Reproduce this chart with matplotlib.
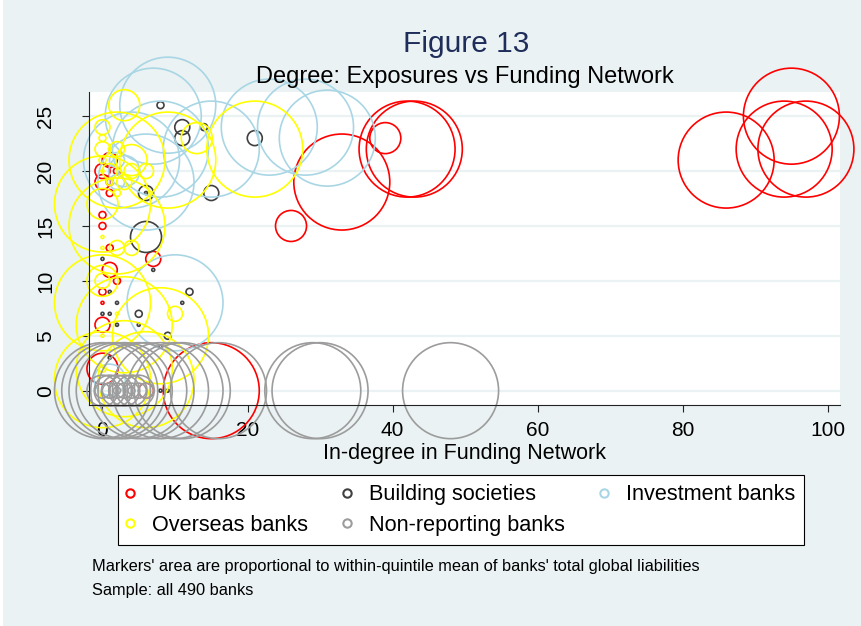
import matplotlib
matplotlib.use("Agg")
import matplotlib.pyplot as plt
from matplotlib.lines import Line2D
from matplotlib.patches import Rectangle

plt.rcParams['font.family'] = ['Liberation Sans', 'DejaVu Sans']

# x = in-degree in funding network, y = degree in exposures network,
# q = liabilities quintile of the bank (1 = smallest)
uk_x = [86, 95, 94, 97, 33, 42, 43, 15, 26, 39, 0, 7, 1, 0, 0, 0, 1, 6, 1, 0, 0, 1, 2, 0, 2, 1, 0]
uk_y = [21, 25, 22, 22, 19, 22, 22, 0, 15, 23, 2, 12, 11, 6, 20, 19, 21, 0, 18, 16, 15, 13, 10, 9, 20, 19, 8]
uk_q = [5, 5, 5, 5, 5, 5, 5, 5, 4, 4, 4, 3, 3, 3, 3, 3, 3, 3, 2, 2, 2, 2, 2, 2, 2, 2, 1]

bs_x = [6, 21, 15, 11, 11, 6, 8, 14, 12, 5, 9, 11, 5, 7, 8, 9, 1, 0, 0, 1, 2, 1, 8, 2, 6]
bs_y = [14, 23, 18, 24, 23, 18, 26, 24, 9, 7, 5, 8, 6, 11, 0, 0, 9, 12, 7, 7, 8, 3, 4, 6, 18]
bs_q = [4, 3, 3, 3, 3, 3, 2, 2, 2, 2, 2, 1, 1, 1, 1, 1, 1, 1, 1, 1, 1, 1, 1, 1, 1]

ib_x = [9, 7, 8, 15, 23, 28, 31, 6, 10, 4, 3, 1, 2, 1, 2]
ib_y = [26, 25, 22, 22, 24, 24, 23, 19, 8, 21, 20, 1, 21, 0, 19]
ib_q = [5, 5, 5, 5, 5, 5, 5, 5, 5, 5, 4, 4, 3, 3, 3]

os_x = [21, 9, 2, 0, 2, 0, 3, 8, 0, 3, 6,
        3, 13, 0, 4, 0,
        0, 6, 2, 4, 10, 0, 1, 3, 0, 2, 4,
        0, 0, 1, 0, 2,
        0, 0, 0, 2, 0, 1]
os_y = [22, 21, 21, 17, 15, 8, 6, 5, 1, 2, 1,
        26, 23, 10, 21, 17,
        24, 20, 13, 13, 7, 22, 20, 19, 10, 22, 20,
        23, 21, 19, 2, 18,
        14, 13, 5, 7, 20, 22]
os_q = [5, 5, 5, 5, 5, 5, 5, 5, 5, 5, 5,
        4, 4, 4, 4, 4,
        3, 3, 3, 3, 3, 3, 3, 3, 3, 3, 3,
        2, 2, 2, 2, 2,
        1, 1, 1, 1, 1, 1]

nr_x = [0, 1, 2, 3, 5, 6, 8, 10, 11, 16, 29, 30, 48,
        0, 1, 2, 3, 4, 5,
        0, 1, 2, 3, 4, 5, 6,
        2, 4]
nr_y = [0] * len(nr_x)
nr_q = [5] * 13 + [4] * 6 + [3] * 7 + [2] * 2

# within-quintile mean of total global liabilities (relative units)
quintile_mean = [1, 5.4, 25, 107, 1024]

groups = [
    ("UK banks", uk_x, uk_y, uk_q, "#ff0000"),
    ("Building societies", bs_x, bs_y, bs_q, "#404040"),
    ("Investment banks", ib_x, ib_y, ib_q, "#a9d6e5"),
    ("Overseas banks", os_x, os_y, os_q, "#ffff00"),
    ("Non-reporting banks", nr_x, nr_y, nr_q, "#9c9c9c"),
]

BG = "#eaf2f3"
W, H = 861, 626
fig = plt.figure(figsize=(W / 100, H / 100), dpi=100, facecolor=BG)
fig.patches.append(Rectangle((0, 0), 3 / W, 1, transform=fig.transFigure,
                             facecolor="white", edgecolor="none"))

ax = fig.add_axes([89 / W, 1 - 404.5 / H, (840 - 89) / W, (404.5 - 92) / H])
ax.set_facecolor("white")
ax.set_xlim(-1.86, 101.7)
ax.set_ylim(-1.26, 27.2)

scale = 4.665  # points^2 per unit of liabilities
for label, xs, ys, qs, col in groups:
    sizes = [quintile_mean[q - 1] * scale for q in qs]
    ax.scatter(xs, ys, s=sizes, facecolors="none", edgecolors=col,
               linewidths=1.2, clip_on=False, zorder=1)

ax.set_xticks([0, 20, 40, 60, 80, 100])
ax.set_yticks([0, 5, 10, 15, 20, 25])
ax.tick_params(axis="both", direction="out", length=5, width=0.8,
               color="#222222", labelsize=15)
ax.tick_params(axis="x", pad=7)
ax.tick_params(axis="y", pad=26)
for t in ax.get_yticklabels():
    t.set_rotation(90)
    t.set_va("center")
    t.set_ha("center")
ax.yaxis.grid(True, color=BG, linewidth=1.6)
ax.set_axisbelow(True)
for side in ("top", "right"):
    ax.spines[side].set_visible(False)
for side in ("left", "bottom"):
    ax.spines[side].set_color("#222222")
    ax.spines[side].set_linewidth(0.8)
ax.set_xlabel("In-degree in Funding Network", fontsize=15.5, labelpad=2)

fig.text(466 / W, 1 - 51.5 / H, "Figure 13", ha="center", va="baseline",
         fontsize=21.5, color="#1f2d5a", zorder=5)
fig.text(464.5 / W, 1 - 83 / H, "Degree: Exposures vs Funding Network",
         ha="center", va="baseline", fontsize=17, color="black", zorder=5)

# matplotlib fills legend columns first; reorder so rows read like the original
order = [0, 3, 1, 4, 2]
handles = [Line2D([], [], marker="o", ls="none", mfc="none", mec=groups[i][4],
                  ms=6, mew=1.5) for i in order]
labels = [groups[i][0] for i in order]
leg = fig.legend(handles, labels, ncol=3, loc="upper left",
                 bbox_to_anchor=(118 / W, 1 - 475 / H), fontsize=15.6,
                 frameon=True, fancybox=False, edgecolor="black",
                 framealpha=1, borderpad=0.42, handlelength=0.3,
                 handletextpad=0.85, columnspacing=1.66, labelspacing=0.45,
                 borderaxespad=0)
leg.get_frame().set_linewidth(0.8)

fig.text(92 / W, 1 - 571.5 / H,
         "Markers' area are proportional to within-quintile mean of banks' total global liabilities",
         ha="left", va="baseline", fontsize=11.8)
fig.text(92 / W, 1 - 595 / H, "Sample: all 490 banks",
         ha="left", va="baseline", fontsize=11.8)

fig.savefig("out.png", dpi=100, facecolor=BG)
